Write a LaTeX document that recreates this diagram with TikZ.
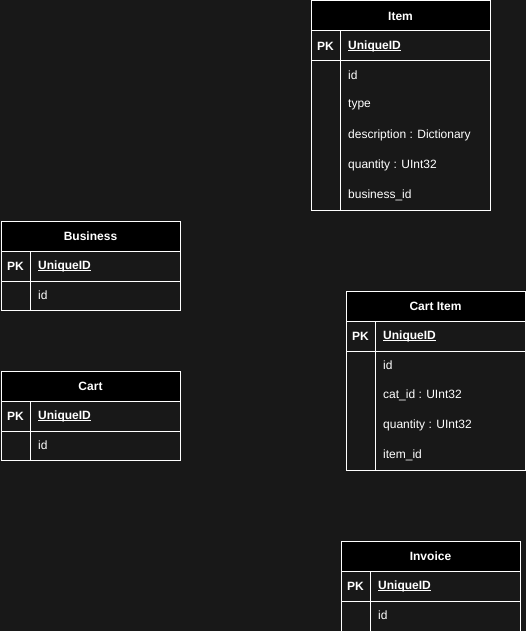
\documentclass[tikz,border=0pt]{standalone}
\usepackage{fontspec}
\setmainfont{Liberation Sans}
\definecolor{bg}{HTML}{181818}
\definecolor{bodyc}{HTML}{181818}
\newcommand{\myul}[1]{\setbox0\hbox{#1}\rlap{\rule[-1.6pt]{\wd0}{0.9pt}}\box0}
\tikzset{
  tb/.style={draw=white, line width=1pt},
  hdrtxt/.style={text=white, font=\fontsize{12}{14}\selectfont\bfseries, inner sep=0pt},
  pktxt/.style={text=white, font=\fontsize{12}{14}\selectfont\bfseries, inner sep=0pt},
  fld/.style={text=white, font=\fontsize{12}{14}\selectfont, inner sep=0pt, anchor=west},
}
\begin{document}
\begin{tikzpicture}[x=1pt,y=-1pt]
\fill[bg] (0,0) rectangle (526,631);
\useasboundingbox (0,0) rectangle (526,631);
% Item
\draw[tb, fill=black] (311,1) rectangle (490,31);
\draw[tb, fill=bodyc] (311,31) rectangle (490,61);
\draw[tb, fill=bodyc] (311,61) rectangle (490,210);
\draw[tb] (340,31) -- (340,210);
\node[hdrtxt] (itemH) at (400.5,16) {Item};
\node[pktxt] (itemPK) at (325.5,46) {PK};
\node[fld] (itemU) at (348,46) {\bfseries\myul{UniqueID}};
\node[fld] (itemF1) at (348,75) {id};
\node[fld] (itemF2) at (348,105) {type};
\node[fld] (itemF3) at (348,135) {description : Dictionary};
\node[fld] (itemF4) at (348,165) {quantity : UInt32};
\node[fld] (itemF5) at (348,195) {business\_id};
% Business
\draw[tb, fill=black] (1,221) rectangle (180,251);
\draw[tb, fill=bodyc] (1,251) rectangle (180,281);
\draw[tb, fill=bodyc] (1,281) rectangle (180,310);
\draw[tb] (30,251) -- (30,310);
\node[hdrtxt] (busH) at (90.5,236) {Business};
\node[pktxt] (busPK) at (15.5,266) {PK};
\node[fld] (busU) at (38,266) {\bfseries\myul{UniqueID}};
\node[fld] (busF1) at (38,295) {id};
% Cart
\draw[tb, fill=black] (1,371) rectangle (180,401);
\draw[tb, fill=bodyc] (1,401) rectangle (180,431);
\draw[tb, fill=bodyc] (1,431) rectangle (180,460);
\draw[tb] (30,401) -- (30,460);
\node[hdrtxt] (cartH) at (90.5,386) {Cart};
\node[pktxt] (cartPK) at (15.5,416) {PK};
\node[fld] (cartU) at (38,416) {\bfseries\myul{UniqueID}};
\node[fld] (cartF1) at (38,445) {id};
% Cart Item
\draw[tb, fill=black] (346,291) rectangle (525,321);
\draw[tb, fill=bodyc] (346,321) rectangle (525,351);
\draw[tb, fill=bodyc] (346,351) rectangle (525,470);
\draw[tb] (375,321) -- (375,470);
\node[hdrtxt] (ciH) at (435.5,306) {Cart Item};
\node[pktxt] (ciPK) at (360.5,336) {PK};
\node[fld] (ciU) at (383,336) {\bfseries\myul{UniqueID}};
\node[fld] (ciF1) at (383,365) {id};
\node[fld] (ciF2) at (383,395) {cat\_id : UInt32};
\node[fld] (ciF3) at (383,425) {quantity : UInt32};
\node[fld] (ciF4) at (383,455) {item\_id};
% Invoice
\draw[tb, fill=black] (341,541) rectangle (520,571);
\draw[tb, fill=bodyc] (341,571) rectangle (520,601);
\draw[tb, fill=bodyc] (341,601) rectangle (520,640);
\draw[tb] (370,571) -- (370,640);
\node[hdrtxt] (invH) at (430.5,556) {Invoice};
\node[pktxt] (invPK) at (355.5,586) {PK};
\node[fld] (invU) at (378,586) {\bfseries\myul{UniqueID}};
\node[fld] (invF1) at (378,615) {id};
\end{tikzpicture}
\end{document}
